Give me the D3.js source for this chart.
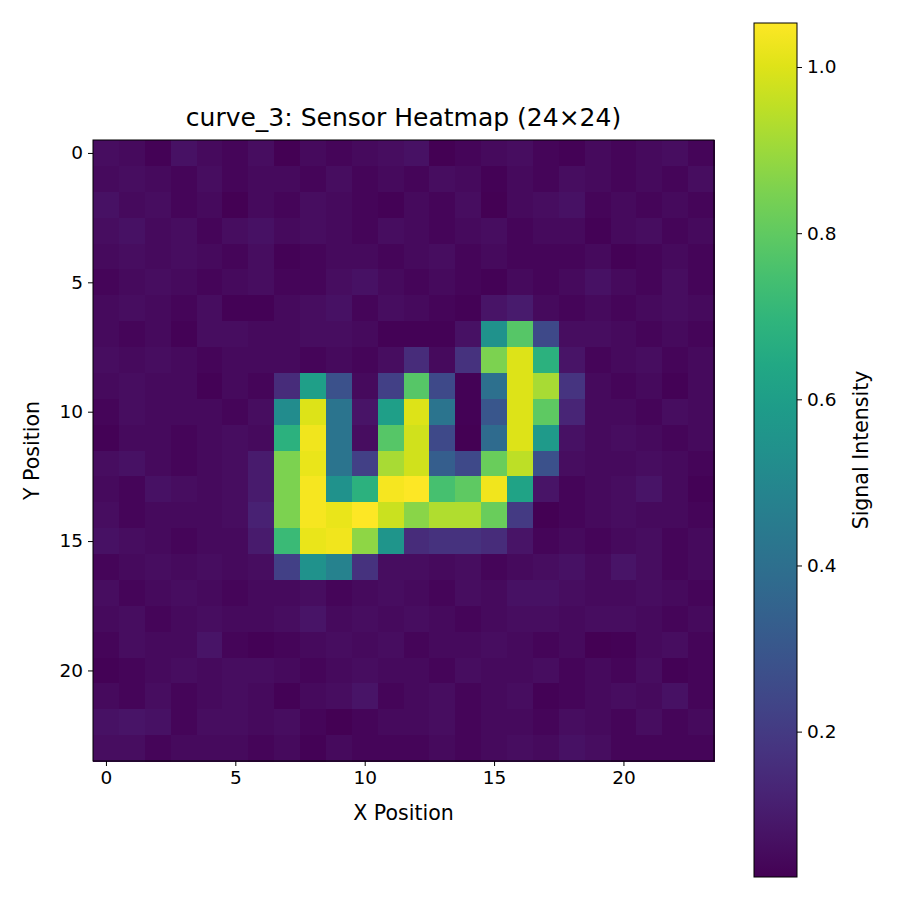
<!DOCTYPE html><html><head><meta charset="utf-8"><script src="https://cdn.jsdelivr.net/npm/d3@7"></script>
<style>body{margin:0;background:#fff}text{font-family:"DejaVu Sans",sans-serif}</style></head><body>
<svg id="c" width="900" height="900"></svg>
<script>
const xTicks=[0,5,10,15,20], yTicks=[0,5,10,15,20];
const cbTicks=[0.2,0.4,0.6,0.8,1.0];
const grid=[
[.06,.05,.03,.07,.05,.04,.06,.02,.05,.04,.05,.06,.07,.02,.04,.05,.06,.04,.03,.05,.04,.05,.06,.04],
[.05,.06,.05,.04,.06,.04,.05,.05,.04,.06,.04,.05,.04,.06,.05,.03,.05,.04,.06,.05,.04,.05,.04,.06],
[.07,.05,.06,.04,.05,.02,.05,.04,.06,.05,.04,.03,.05,.04,.06,.02,.05,.06,.07,.04,.05,.04,.05,.04],
[.06,.07,.05,.06,.04,.06,.07,.05,.06,.05,.04,.06,.05,.04,.05,.06,.04,.05,.05,.03,.05,.06,.04,.05],
[.05,.06,.05,.06,.05,.04,.06,.03,.04,.05,.05,.04,.05,.06,.04,.05,.04,.04,.04,.05,.03,.04,.05,.04],
[.04,.05,.06,.05,.04,.05,.06,.04,.04,.06,.07,.05,.04,.05,.04,.03,.05,.04,.05,.07,.05,.04,.06,.04],
[.05,.06,.05,.04,.06,.03,.03,.05,.06,.07,.04,.06,.05,.04,.03,.08,.10,.05,.04,.05,.04,.05,.06,.05],
[.05,.04,.05,.03,.06,.06,.05,.05,.06,.06,.05,.03,.03,.03,.07,.55,.78,.25,.06,.06,.05,.04,.05,.04],
[.06,.05,.06,.05,.04,.05,.05,.05,.04,.05,.04,.06,.15,.05,.17,.85,1.0,.68,.08,.04,.05,.06,.04,.05],
[.05,.06,.05,.05,.03,.05,.04,.15,.60,.28,.05,.22,.78,.25,.03,.40,1.0,.92,.18,.05,.04,.05,.03,.05],
[.04,.06,.05,.05,.05,.04,.06,.52,1.0,.42,.08,.60,1.0,.42,.03,.30,1.0,.80,.13,.05,.05,.04,.06,.05],
[.03,.05,.05,.04,.05,.06,.05,.68,1.03,.42,.06,.78,.98,.25,.02,.38,1.0,.58,.07,.05,.06,.05,.04,.05],
[.06,.07,.05,.04,.05,.06,.10,.85,1.02,.42,.22,.92,.98,.33,.25,.82,.95,.28,.06,.05,.05,.06,.05,.04],
[.05,.04,.07,.06,.05,.06,.10,.85,1.04,.55,.68,1.04,1.05,.75,.80,1.03,.62,.08,.04,.05,.06,.08,.05,.03],
[.06,.04,.05,.05,.05,.06,.12,.85,1.04,1.02,1.05,.97,.87,.93,.93,.82,.20,.02,.04,.05,.06,.05,.05,.04],
[.07,.06,.05,.04,.05,.05,.10,.72,1.02,1.03,.88,.56,.15,.17,.17,.15,.08,.04,.05,.04,.05,.06,.04,.05],
[.04,.05,.06,.05,.06,.05,.06,.22,.55,.48,.17,.06,.06,.05,.06,.04,.05,.06,.07,.05,.08,.06,.04,.05],
[.06,.04,.05,.06,.05,.04,.05,.05,.06,.04,.05,.06,.05,.04,.06,.05,.07,.07,.06,.05,.05,.06,.05,.04],
[.05,.06,.04,.05,.06,.05,.05,.06,.08,.05,.06,.05,.06,.05,.04,.05,.06,.06,.05,.06,.06,.05,.04,.05],
[.04,.06,.05,.05,.08,.04,.03,.04,.05,.06,.05,.06,.04,.05,.05,.06,.05,.04,.05,.02,.03,.05,.06,.04],
[.03,.04,.05,.06,.05,.06,.06,.05,.04,.05,.06,.05,.05,.04,.06,.05,.05,.06,.04,.05,.04,.06,.03,.04],
[.05,.04,.06,.04,.05,.06,.05,.03,.05,.06,.08,.04,.05,.06,.04,.05,.06,.03,.04,.05,.06,.05,.07,.04],
[.07,.08,.07,.04,.06,.06,.05,.06,.04,.02,.04,.05,.05,.06,.04,.05,.05,.04,.06,.05,.04,.06,.04,.05],
[.06,.06,.04,.05,.05,.05,.04,.05,.03,.05,.04,.04,.04,.05,.04,.05,.06,.05,.07,.06,.04,.04,.04,.04]];
const vmin=0.025,vmax=1.053;
const svg=d3.select("#c");
const L=93,T=140,S=621;
const x=d3.scaleLinear().domain([-0.5,23.5]).range([L,L+S]);
const y=d3.scaleLinear().domain([-0.5,23.5]).range([T,T+S]);
const col=d3.scaleSequential(d3.interpolateViridis).domain([vmin,vmax]);
const cells=[];grid.forEach((r,i)=>r.forEach((v,j)=>cells.push({i,j,v})));
svg.append("g").attr("shape-rendering","crispEdges").selectAll("rect").data(cells).join("rect")
 .attr("x",d=>x(d.j-0.5)).attr("y",d=>y(d.i-0.5))
 .attr("width",x(1)-x(0)+0.6).attr("height",y(1)-y(0)+0.6).attr("fill",d=>col(d.v));
svg.append("rect").attr("x",L).attr("y",T).attr("width",S).attr("height",S).attr("fill","none").attr("stroke","#000");
const ax=svg.append("g").attr("transform",`translate(0,${T+S})`).call(d3.axisBottom(x).tickValues(xTicks).tickSize(5).tickPadding(5));
const ay=svg.append("g").attr("transform",`translate(${L},0)`).call(d3.axisLeft(y).tickValues(yTicks).tickSize(5).tickPadding(5));
[ax,ay].forEach(a=>{a.select(".domain").remove();a.selectAll("text").attr("font-size",18.5).attr("fill","#000");});
svg.append("text").attr("x",L+S/2).attr("y",820).attr("text-anchor","middle").attr("font-size",20.5).text("X Position");
svg.append("text").attr("transform",`translate(39,${T+S/2}) rotate(-90)`).attr("text-anchor","middle").attr("font-size",20.5).text("Y Position");
svg.append("text").attr("x",L+S/2).attr("y",126).attr("text-anchor","middle").attr("font-size",25).text("curve_3: Sensor Heatmap (24×24)");
const cx=754,cw=43,ct=23,cb=877;
const cy=d3.scaleLinear().domain([vmin,vmax]).range([cb,ct]);
const defs=svg.append("defs");const g=defs.append("linearGradient").attr("id","gr").attr("x1",0).attr("y1",1).attr("x2",0).attr("y2",0);
d3.range(0,1.0001,0.05).forEach(t=>g.append("stop").attr("offset",t).attr("stop-color",d3.interpolateViridis(t)));
svg.append("rect").attr("x",cx).attr("y",ct).attr("width",cw).attr("height",cb-ct).attr("fill","url(#gr)").attr("stroke","#000");
const ac=svg.append("g").attr("transform",`translate(${cx+cw},0)`).call(d3.axisRight(cy).tickValues(cbTicks).tickFormat(d3.format(".1f")).tickSize(5).tickPadding(5));
ac.select(".domain").remove();ac.selectAll("text").attr("font-size",18.5).attr("fill","#000");
svg.append("text").attr("transform",`translate(868,${(ct+cb)/2}) rotate(-90)`).attr("text-anchor","middle").attr("font-size",20.5).text("Signal Intensity");
</script></body></html>
